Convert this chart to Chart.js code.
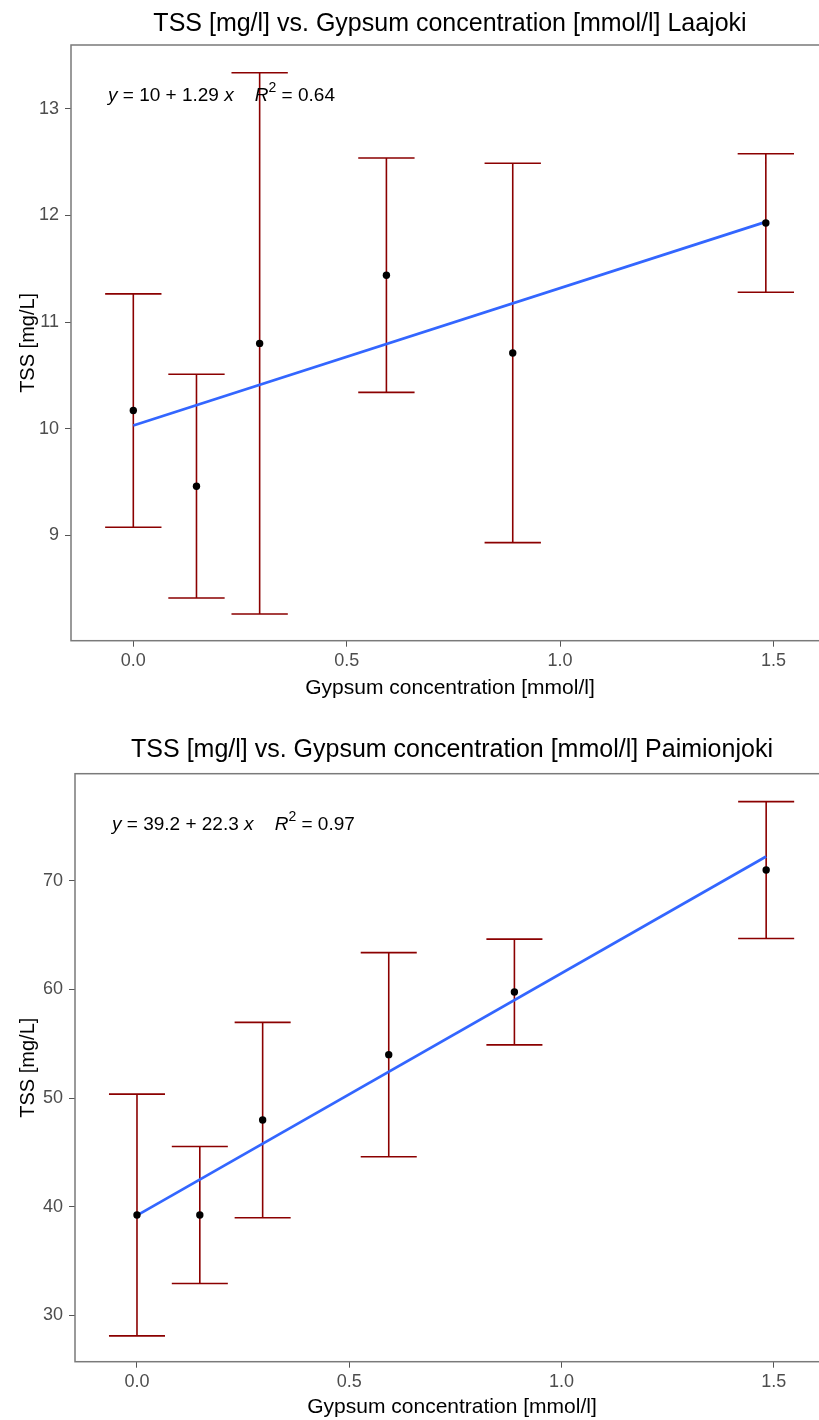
<!DOCTYPE html>
<html>
<head>
<meta charset="utf-8">
<script src="https://cdn.jsdelivr.net/npm/chart.js@4.4.0/dist/chart.umd.min.js"></script>
<style>
  html, body { margin: 0; padding: 0; background: #fff; overflow: hidden; width: 819px; height: 1420px; }
  .box { position: relative; width: 840px; height: 710px; }
</style>
</head>
<body>
<div class="box"><canvas id="g1" width="840" height="710"></canvas></div>
<div class="box"><canvas id="g2" width="840" height="710"></canvas></div>
<script>
// gypsum dose (mmol/l), same for both rivers
const gypsum = [0, 0.148, 0.296, 0.593, 0.889, 1.482];
const xTicks = [0, 0.5, 1.0, 1.5];

// Laajoki
const laaMean = [10.17, 9.46, 10.80, 11.44, 10.71, 11.93];
const laaSd = [1.095, 1.05, 2.54, 1.10, 1.78, 0.65];
const laaFitX = [0, 1.482];
const laaFitY = [10.03, 11.94];
const laaTicks = [9, 10, 11, 12, 13];

// Paimionjoki
const paiMean = [39.24, 39.24, 47.98, 54.0, 59.77, 71.0];
const paiSd = [11.13, 6.31, 8.99, 9.4, 4.87, 6.3];
const paiFitX = [0, 1.482];
const paiFitY = [39.2, 72.25];
const paiTicks = [30, 40, 50, 60, 70];

const FONT = '"Liberation Sans", Arial, sans-serif';
const CAP = 0.066; // half width of the error bar caps, in x units

function errorBars(xs, mean, sd) {
  let pts = [];
  for (let i = 0; i < xs.length; i++) {
    let lo = mean[i] - sd[i], hi = mean[i] + sd[i];
    pts.push({x: xs[i], y: lo}, {x: xs[i], y: hi}, {x: xs[i], y: null});
    pts.push({x: xs[i] - CAP, y: hi}, {x: xs[i] + CAP, y: hi}, {x: xs[i], y: null});
    pts.push({x: xs[i] - CAP, y: lo}, {x: xs[i] + CAP, y: lo}, {x: xs[i], y: null});
  }
  return pts;
}

// panel frame, title and the fit equation
const decor = {
  id: 'decor',
  afterDraw(chart, args, opts) {
    const ctx = chart.ctx, a = chart.chartArea;
    ctx.save();
    ctx.strokeStyle = '#7a7a7a';
    ctx.lineWidth = 1.5;
    ctx.strokeRect(a.left, a.top, a.right - a.left, a.bottom - a.top);

    ctx.fillStyle = '#000';
    ctx.textBaseline = 'alphabetic';
    ctx.textAlign = 'center';
    ctx.font = '25px ' + FONT;
    ctx.fillText(opts.title, (a.left + a.right) / 2, a.top - opts.titleGap);

    ctx.textAlign = 'left';
    let x = a.left + 37, y = a.top + 56;
    for (const [txt, kind] of opts.eq) {
      if (kind == 'i') ctx.font = 'italic 19px ' + FONT;
      else if (kind == 'sup') ctx.font = '14px ' + FONT;
      else ctx.font = '19px ' + FONT;
      ctx.fillText(txt, x, kind == 'sup' ? y - 9 : y);
      x += ctx.measureText(txt).width;
    }
    ctx.restore();
  }
};

function makeChart(id, mean, sd, fitX, fitY, yTicks, yMin, yMax, opt) {
  new Chart(document.getElementById(id), {
    type: 'scatter',
    data: {
      datasets: [
        {
          data: gypsum.map((v, i) => ({x: v, y: mean[i]})),
          backgroundColor: '#000', borderWidth: 0, pointRadius: 3.7, order: 0
        },
        {
          data: fitX.map((v, i) => ({x: v, y: fitY[i]})),
          showLine: true, borderColor: '#3366FF', borderWidth: 2.7, pointRadius: 0, order: 1
        },
        {
          data: errorBars(gypsum, mean, sd),
          showLine: true, spanGaps: false, borderColor: '#8B0000', borderWidth: 1.6, pointRadius: 0, order: 2
        }
      ]
    },
    options: {
      responsive: false,
      animation: false,
      devicePixelRatio: 1,
      layout: { padding: { left: 0, right: 11, top: opt.top, bottom: 0 } },
      plugins: {
        legend: { display: false },
        tooltip: { enabled: false },
        decor: { title: opt.title, eq: opt.eq, titleGap: opt.titleGap }
      },
      scales: {
        x: {
          type: 'linear', min: -0.146, max: 1.63,
          afterBuildTicks: s => { s.ticks = xTicks.map(v => ({value: v})); },
          afterFit: s => { s.height = opt.xh; },
          ticks: { callback: v => v.toFixed(1), font: { family: FONT, size: 18 }, color: '#4d4d4d', padding: 4, maxRotation: 0 },
          grid: { drawOnChartArea: false, drawTicks: true, tickLength: 6, color: '#555' },
          border: { display: false },
          title: { display: true, text: 'Gypsum concentration [mmol/l]', font: { family: FONT, size: 21 }, color: '#000', padding: { top: 0, bottom: opt.xtPad } }
        },
        y: {
          type: 'linear', min: yMin, max: yMax,
          afterBuildTicks: s => { s.ticks = yTicks.map(v => ({value: v})); },
          afterFit: s => { s.width = opt.yw; },
          ticks: { font: { family: FONT, size: 18 }, color: '#4d4d4d', padding: 6 },
          grid: { drawOnChartArea: false, drawTicks: true, tickLength: 6, color: '#555' },
          border: { display: false },
          title: { display: true, text: 'TSS [mg/L]', font: { family: FONT, size: 20 }, color: '#000', padding: { top: 16, bottom: 0 } }
        }
      }
    },
    plugins: [decor]
  });
}

makeChart('g1', laaMean, laaSd, laaFitX, laaFitY, laaTicks, 8.01, 13.60, {
  top: 45, xh: 69.3, yw: 71, xtPad: 9, titleGap: 14,
  title: 'TSS [mg/l] vs. Gypsum concentration [mmol/l] Laajoki',
  eq: [['y', 'i'], [' = 10 + 1.29 ', 'n'], ['x', 'i'], ['    ', 'n'], ['R', 'i'], ['2', 'sup'], [' = 0.64', 'n']]
});

makeChart('g2', paiMean, paiSd, paiFitX, paiFitY, paiTicks, 25.73, 79.87, {
  top: 63.7, xh: 58.3, yw: 75, xtPad: 0, titleGap: 17,
  title: 'TSS [mg/l] vs. Gypsum concentration [mmol/l] Paimionjoki',
  eq: [['y', 'i'], [' = 39.2 + 22.3 ', 'n'], ['x', 'i'], ['    ', 'n'], ['R', 'i'], ['2', 'sup'], [' = 0.97', 'n']]
});
</script>
</body>
</html>
